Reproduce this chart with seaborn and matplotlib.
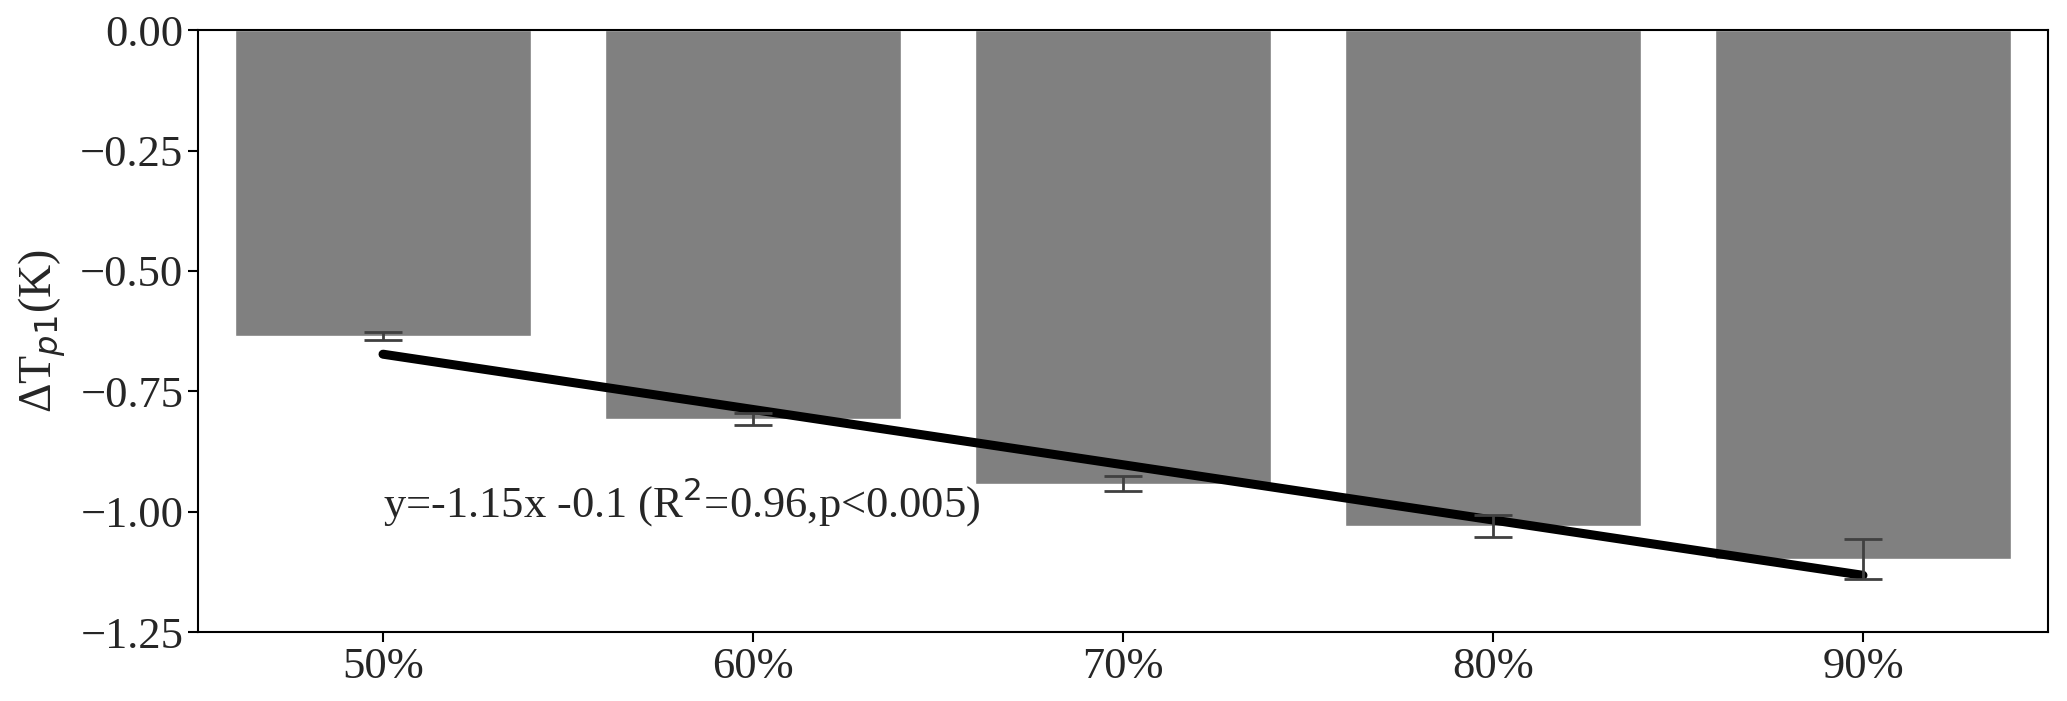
import matplotlib
matplotlib.use("Agg")
import matplotlib.pyplot as plt
import numpy as np
import pandas as pd
import seaborn as sns

humidity = ["50%", "60%", "70%", "80%", "90%"]
humidity_frac = [0.5, 0.6, 0.7, 0.8, 0.9]
delta_tp1 = [-0.635, -0.808, -0.942, -1.030, -1.098]
delta_err = [0.008, 0.013, 0.015, 0.022, 0.042]

sns.set_style("ticks")
plt.rcParams["font.family"] = ["Liberation Serif", "DejaVu Sans"]
plt.rcParams["mathtext.fontset"] = "dejavusans"

df = pd.DataFrame({"humidity": humidity, "dT": delta_tp1})

fig, ax = plt.subplots(figsize=(20.67, 7.01), dpi=100)
fig.subplots_adjust(left=0.0958, right=0.9908, bottom=0.0984, top=0.957)

sns.barplot(data=df, x="humidity", y="dT", color="#808080", saturation=1,
            width=0.8, ax=ax)
ax.errorbar(range(len(humidity)), delta_tp1, yerr=delta_err, fmt="none",
            ecolor="#404040", elinewidth=2, capsize=14, capthick=2, zorder=4)

# linear fit of the bar means against humidity fraction
slope, intercept = np.polyfit(humidity_frac, delta_tp1, 1)
fit = slope * np.array(humidity_frac) + intercept
sns.lineplot(x=np.arange(len(humidity)), y=fit, color="black", linewidth=6.5,
             ax=ax, zorder=3)

ax.text(0, -1.013, "y=-1.15x -0.1 (R$^2$=0.96,p<0.005)", fontsize=32,
        va="baseline", ha="left")

ax.set_xlim(-0.5, 4.5)
ax.set_ylim(-1.25, 0)
ax.set_yticks(np.arange(-1.25, 0.01, 0.25))
ax.set_xlabel("")
ax.set_ylabel("ΔT$_{p1}$(K)", fontsize=33, labelpad=9)
ax.tick_params(labelsize=32, length=7, width=1.5, color="black")
for s in ax.spines.values():
    s.set_visible(True)
    s.set_color("black")
    s.set_linewidth(1.5)

plt.savefig("out.png", dpi=100)
